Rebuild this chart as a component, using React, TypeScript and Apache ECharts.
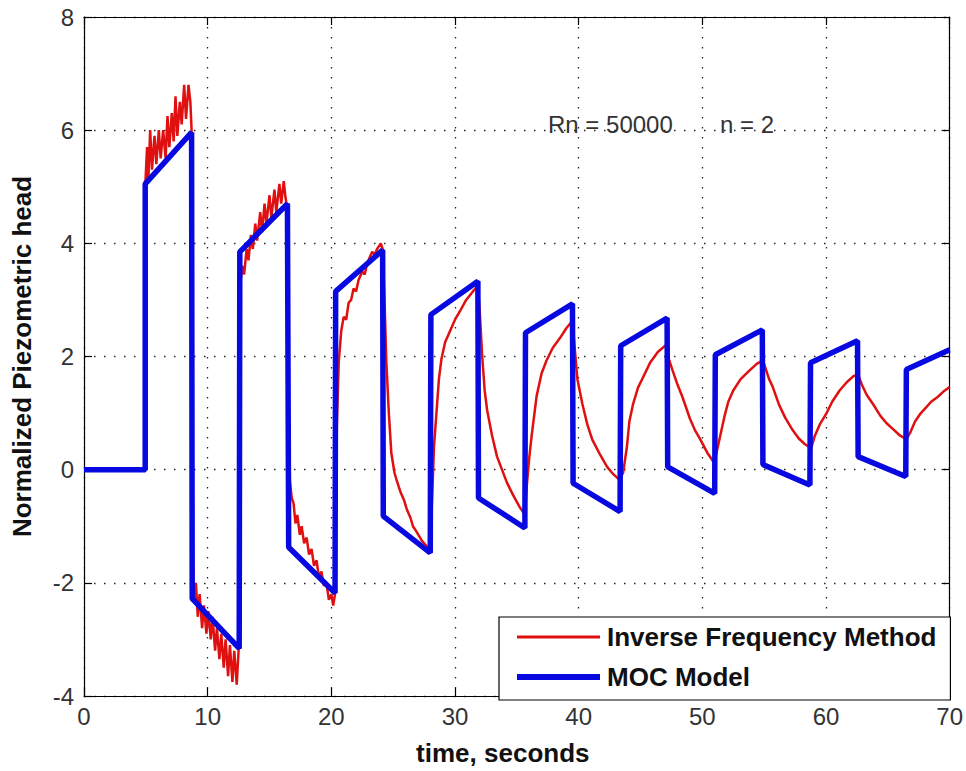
import React, { useEffect, useRef } from "react";
import * as echarts from "echarts";

// MOC Model (blue)
const mocTime = [
  0, 4.95, 4.95, 8.7, 8.75, 12.55, 12.6, 16.45, 16.55, 20.3, 20.35, 24.15, 24.2, 28.0,
  28.05, 31.85, 31.9, 35.65, 35.7, 39.5, 39.55, 43.35, 43.4, 47.15, 47.2, 51.0, 51.05,
  54.85, 54.9, 58.7, 58.75, 62.55, 62.6, 66.45, 66.5, 70,
];
const mocHead = [
  0, 0, 5.05, 5.96, -2.28, -3.16, 3.85, 4.7, -1.37, -2.18, 3.15, 3.88, -0.82, -1.47,
  2.74, 3.33, -0.5, -1.03, 2.42, 2.93, -0.24, -0.74, 2.19, 2.68, 0.05, -0.42, 2.03,
  2.47, 0.09, -0.27, 1.89, 2.28, 0.23, -0.12, 1.77, 2.12,
];

// Inverse Frequency Method (red)
const ifmTime = [
  0, 4.9, 4.95, 5.1, 5.2, 5.35, 5.5, 5.7, 5.85, 6.05, 6.2, 6.4, 6.6, 6.75, 6.9, 7.1, 7.25,
  7.4, 7.55, 7.75, 7.9, 8.1, 8.25, 8.45, 8.6, 8.7,
  8.8, 8.9, 9.05, 9.2, 9.35, 9.55, 9.7, 9.9, 10.05, 10.25, 10.4, 10.6, 10.75, 10.95, 11.1,
  11.3, 11.45, 11.65, 11.8, 12.0, 12.15, 12.35, 12.5, 12.55,
  12.65, 12.8, 12.95, 13.15, 13.3, 13.5, 13.65, 13.85, 14.0, 14.25, 14.4, 14.6, 14.75, 15.0,
  15.15, 15.4, 15.55, 15.8, 15.95, 16.15, 16.3, 16.45,
  16.55, 16.65, 16.8, 16.95, 17.1, 17.25, 17.45, 17.6, 17.8, 18.0, 18.2, 18.4, 18.6, 18.8,
  19.0, 19.2, 19.4, 19.6, 19.8, 20.0, 20.15, 20.3,
  20.35, 20.45, 20.6, 20.8, 21.0, 21.2, 21.4, 21.6, 21.8, 22.0, 22.2, 22.5, 22.7, 22.9, 23.3,
  23.5, 23.7, 24.0, 24.15,
  24.3, 24.45, 24.65, 24.85, 25.1, 25.3, 25.6, 25.9, 26.1, 26.4, 26.6, 26.9, 27.3, 27.7, 28.0,
  28.15, 28.3, 28.5, 28.7, 28.9, 29.2, 29.6, 30.0, 30.4, 30.9, 31.45, 31.85,
  32.0, 32.2, 32.4, 32.6, 33.0, 33.4, 33.8, 34.2, 34.7, 35.2, 35.65,
  35.8, 36.0, 36.2, 36.6, 37.0, 37.4, 37.9, 38.5, 39.0, 39.5,
  39.7, 39.9, 40.3, 40.7, 41.1, 41.7, 42.3, 42.8, 43.3,
  43.6, 43.9, 44.1, 44.4, 44.8, 45.2, 45.8, 46.4, 47.1,
  47.3, 47.6, 48.0, 48.4, 49.0, 49.4, 49.8, 50.4, 50.9,
  51.1, 51.4, 51.8, 52.1, 52.5, 53.1, 53.8, 54.4, 54.9,
  55.1, 55.4, 55.7, 56.2, 56.7, 57.3, 57.8, 58.3, 58.8,
  59.1, 59.5, 60.0, 60.5, 61.1, 61.7, 62.2, 62.6,
  62.9, 63.3, 63.8, 64.4, 64.9, 65.4, 66.0, 66.5,
  66.8, 67.2, 67.6, 68.1, 68.5, 69.0, 69.5, 70.0,
];
const ifmHead = [
  0, 0, 5.0, 5.7, 5.1, 6.0, 5.3, 5.9, 5.4, 6.0, 5.5, 6.0, 5.5, 6.25, 5.7, 6.3, 5.8,
  6.6, 5.9, 6.5, 6.1, 6.8, 6.2, 6.8, 6.5, 6.0,
  -1.6, -2.3, -2.0, -2.6, -2.2, -2.8, -2.4, -2.9, -2.5, -3.0, -2.6, -3.2, -2.8, -3.35, -2.9,
  -3.5, -3.0, -3.65, -3.1, -3.75, -3.2, -3.8, -3.2, -3.0,
  3.3, 3.6, 3.45, 3.9, 3.7, 4.15, 3.9, 4.35, 4.05, 4.55, 4.2, 4.7, 4.35, 4.85,
  4.45, 4.95, 4.55, 5.05, 4.7, 5.1, 4.8, 4.6,
  1.0, -0.2, -0.5, -0.6, -0.95, -0.8, -1.15, -1.0, -1.3, -1.2, -1.5, -1.4, -1.7, -1.6,
  -1.9, -1.8, -2.05, -2.0, -2.3, -2.2, -2.4, -2.2,
  -1.0, 0.8, 1.9, 2.45, 2.7, 2.65, 2.95, 3.0, 3.2, 3.15, 3.35, 3.5, 3.45, 3.65, 3.85,
  3.8, 3.9, 4.0, 3.9,
  3.0, 1.9, 1.0, 0.3, -0.05, -0.2, -0.4, -0.55, -0.7, -0.85, -1.0, -1.1, -1.25, -1.35, -1.45,
  -0.5, 0.4, 1.0, 1.6, 1.95, 2.25, 2.45, 2.65, 2.8, 3.0, 3.15, 3.25,
  2.8, 2.0, 1.4, 1.05, 0.6, 0.23, 0.0, -0.23, -0.45, -0.65, -0.8,
  -0.3, 0.2, 0.6, 1.3, 1.7, 1.93, 2.15, 2.33, 2.5, 2.63,
  2.1, 1.6, 1.16, 0.8, 0.53, 0.28, 0.05, -0.08, -0.18,
  -0.05, 0.4, 0.85, 1.16, 1.45, 1.63, 1.9, 2.08, 2.21,
  1.95, 1.75, 1.5, 1.28, 0.9, 0.7, 0.55, 0.3, 0.14,
  0.25, 0.55, 0.95, 1.2, 1.4, 1.6, 1.75, 1.87, 1.93,
  1.8, 1.6, 1.46, 1.15, 0.92, 0.7, 0.55, 0.45, 0.38,
  0.6, 0.8, 0.98, 1.2, 1.4, 1.55, 1.65, 1.68,
  1.5, 1.32, 1.16, 0.95, 0.82, 0.72, 0.6, 0.54,
  0.65, 0.85, 0.98, 1.1, 1.2, 1.28, 1.38, 1.46,
];

const seriesNames = ["Inverse Frequency Method", "MOC Model"];
const xLabel = "time, seconds";
const yLabel = "Normalized Piezometric head";
const annotations = ["Rn = 50000", "n = 2"];

const FONT = "'Liberation Sans', Arial, sans-serif";

export default function App() {
  const ref = useRef<HTMLDivElement>(null);
  useEffect(() => {
    if (!ref.current) return;
    const chart = echarts.init(ref.current, null, { renderer: "svg" });
    const axisCommon = {
      axisLine: { show: true, onZero: false, lineStyle: { color: "#000", width: 1.2 } },
      axisTick: { show: true, inside: true, length: 8, lineStyle: { color: "#000", width: 1.2 } },
    };
    chart.setOption({
      animation: false,
      backgroundColor: "#fff",
      grid: { left: 84, top: 17, right: 16, bottom: 71, show: false },
      legend: {
        orient: "vertical",
        left: 499,
        top: 617,
        data: [
          { name: seriesNames[0], lineStyle: { width: 3 } },
          { name: seriesNames[1], lineStyle: { width: 6 } },
        ],
        backgroundColor: "#fff",
        borderColor: "#000",
        borderWidth: 1.2,
        padding: [5, 14, 8, 15],
        itemWidth: 83,
        itemHeight: 14,
        itemGap: 10,
        itemStyle: { opacity: 0, borderWidth: 0 },
        textStyle: {
          fontFamily: FONT,
          fontWeight: "bold",
          fontSize: 26,
          lineHeight: 30,
          color: "#111",
          padding: [0, 0, 0, 2],
        },
      },
      xAxis: [
        {
          type: "value",
          min: 0,
          max: 70,
          interval: 10,
          ...axisCommon,
          axisLabel: { fontFamily: FONT, fontSize: 24, color: "#333", margin: 8 },
          splitLine: { show: true, lineStyle: { color: "#222", type: [1.5, 8.5], width: 1.3 } },
          name: xLabel,
          nameLocation: "middle",
          nameGap: 44,
          nameTextStyle: {
            fontFamily: FONT,
            fontWeight: "bold",
            fontSize: 26,
            color: "#111",
            padding: [0, 28, 0, 0],
          },
        },
        {
          type: "value",
          position: "top",
          min: 0,
          max: 70,
          interval: 10,
          ...axisCommon,
          axisLabel: { show: false },
          splitLine: { show: false },
        },
      ],
      yAxis: [
        {
          type: "value",
          min: -4,
          max: 8,
          interval: 2,
          ...axisCommon,
          axisLabel: { fontFamily: FONT, fontSize: 24, color: "#333", margin: 10 },
          splitLine: { show: true, lineStyle: { color: "#222", type: [1.5, 8.5], width: 1.3 } },
          name: yLabel,
          nameLocation: "middle",
          nameGap: 49,
          nameRotate: 90,
          nameTextStyle: { fontFamily: FONT, fontWeight: "bold", fontSize: 26, color: "#111" },
        },
        {
          type: "value",
          position: "right",
          min: -4,
          max: 8,
          interval: 2,
          ...axisCommon,
          axisLabel: { show: false },
          splitLine: { show: false },
        },
      ],
      graphic: [
        {
          type: "text",
          left: 548,
          top: 112,
          style: { text: annotations[0], fontFamily: FONT, fontSize: 24, fill: "#333" },
        },
        {
          type: "text",
          left: 720,
          top: 112,
          style: { text: annotations[1], fontFamily: FONT, fontSize: 24, fill: "#333" },
        },
      ],
      series: [
        {
          name: seriesNames[0],
          type: "line",
          showSymbol: false,
          symbol: "none",
          data: ifmTime.map((t, i) => [t, ifmHead[i]]),
          lineStyle: { color: "#e01010", width: 2.5 },
          itemStyle: { color: "#e01010" },
          z: 2,
        },
        {
          name: seriesNames[1],
          type: "line",
          showSymbol: false,
          symbol: "none",
          data: mocTime.map((t, i) => [t, mocHead[i]]),
          lineStyle: { color: "#0808e0", width: 5.5 },
          itemStyle: { color: "#0808e0" },
          z: 3,
        },
      ],
    });
    return () => chart.dispose();
  }, []);
  return (
    <div
      ref={ref}
      style={{ position: "fixed", left: 0, top: 0, width: 966, height: 771, background: "#fff" }}
    />
  );
}
